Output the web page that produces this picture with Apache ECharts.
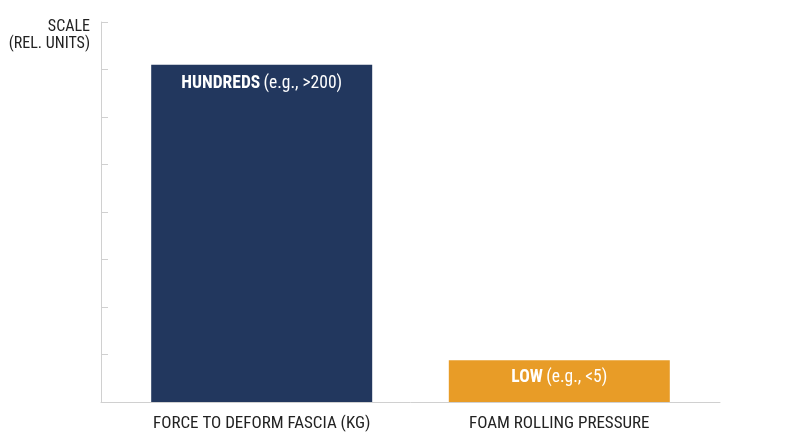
<!DOCTYPE html>
<html>
<head>
<meta charset="utf-8">
<script src="https://cdn.jsdelivr.net/npm/echarts@6/dist/echarts.min.js"></script>
<style>
  html, body { margin: 0; padding: 0; background: #fff; }
  #chart { width: 800px; height: 447px; }
</style>
</head>
<body>
<div id="chart"></div>
<script>
// categories and values (relative scale)
const categories = ['FORCE TO DEFORM FASCIA (KG)', 'FOAM ROLLING PRESSURE'];
const values = [7.1, 0.88];
const boldLabels = ['HUNDREDS', 'LOW'];
const noteLabels = ['(e.g., >200)', '(e.g., <5)'];
const barColors = ['#22375e', '#e89c27'];

const FONT = '"Roboto Condensed", "Roboto", sans-serif';

let chart = echarts.init(document.getElementById('chart'));
let option = {
  animation: false,
  grid: {
    left: 101,
    right: 80,
    top: 22,
    bottom: 45
  },
  xAxis: {
    type: 'value',
    min: -0.54,
    max: 1.54,
    splitLine: { show: false },
    axisTick: { show: false },
    axisLine: {
      show: true,
      onZero: false,
      lineStyle: { color: '#d0d0d0', width: 1 }
    },
    axisLabel: {
      customValues: [0, 1],
      formatter: (v) => categories[Math.round(v)] || '',
      color: '#222',
      fontFamily: FONT,
      fontSize: 17,
      margin: 13
    }
  },
  yAxis: {
    type: 'value',
    min: 0,
    max: 8,
    interval: 1,
    name: 'SCALE\n(REL. UNITS)',
    nameLocation: 'end',
    nameGap: -13,
    nameTextStyle: {
      align: 'right',
      verticalAlign: 'middle',
      color: '#222',
      fontFamily: FONT,
      fontSize: 16,
      lineHeight: 17,
      padding: [0, 11, 0, 0]
    },
    axisLine: {
      show: true,
      onZero: false,
      lineStyle: { color: '#d0d0d0', width: 1 }
    },
    axisTick: {
      show: true,
      inside: true,
      length: 7,
      lineStyle: { color: '#d0d0d0' }
    },
    axisLabel: { show: false },
    splitLine: { show: false }
  },
  series: [
    {
      type: 'bar',
      barWidth: 221,
      data: values.map((v, i) => ({
        value: [i, v],
        itemStyle: { color: barColors[i] },
        label: {
          show: true,
          position: i === 0 ? 'insideTop' : 'inside',
          distance: 10,
          offset: i === 0 ? [0, 0] : [0, -3],
          formatter: `{b|${boldLabels[i]}} {n|${noteLabels[i]}}`,
          rich: {
            b: { color: '#fff', fontWeight: 'bold', fontSize: 17.5, fontFamily: FONT },
            n: { color: '#fff', fontSize: 17.5, fontFamily: FONT }
          }
        }
      }))
    }
  ]
};
chart.setOption(option);
</script>
</body>
</html>
